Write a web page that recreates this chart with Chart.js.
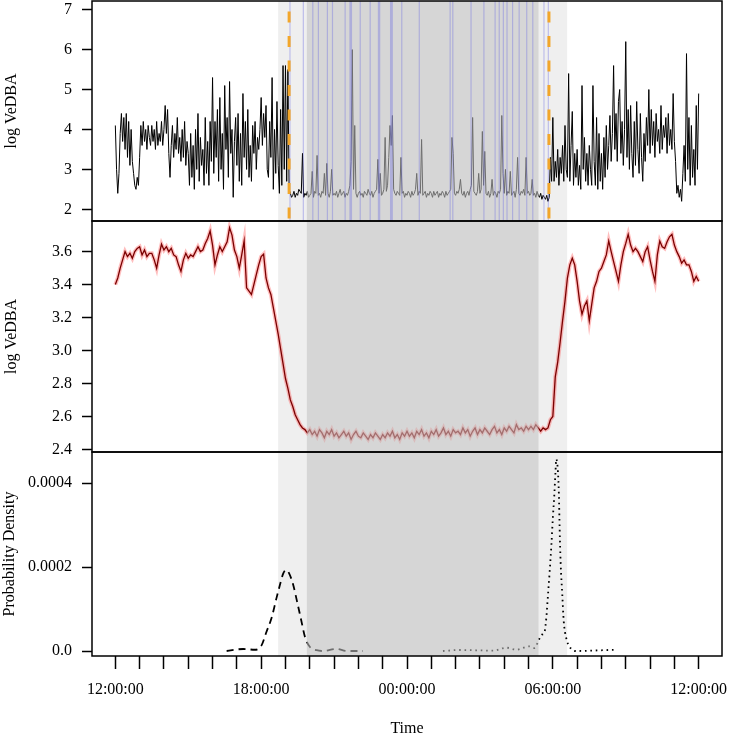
<!DOCTYPE html>
<html>
<head>
<meta charset="utf-8">
<script src="https://cdn.jsdelivr.net/npm/chart.js@4"></script>
<style>
  body { margin: 0; background: #fff; }
  canvas { display: block; }
</style>
</head>
<body>
<canvas id="vedbaChart" width="729" height="735"></canvas>
<script>
// raw samples every 0.05 h, smoothed every 0.1 h, both from 12:00:00 (hour 0)
const rawStep = 0.05;
const smoothStep = 0.1;

// raw log VeDBA (top panel), one row per hour
const rawVeDBA = [
  4.1, 3.0, 2.4, 2.9, 3.9, 4.4, 3.7, 4.3, 3.5, 4.4, 3.3, 4.2, 3.1, 4.0, 3.2, 2.9, 2.6, 2.5, 2.8, 2.6,
  3.3, 4.1, 3.6, 4.2, 3.7, 4.0, 3.5, 4.1, 3.8, 3.6, 4.1, 3.7, 4.0, 3.5, 4.2, 3.6, 3.9, 3.7, 4.2, 3.6,
  4.0, 4.6, 3.9, 4.5, 3.4, 2.8, 3.6, 4.1, 3.3, 3.9, 3.5, 4.3, 3.4, 3.8, 3.2, 4.0, 3.3, 4.2, 3.1, 3.7,
  3.4, 2.6, 3.9, 2.8, 3.6, 2.5, 4.0, 3.0, 4.4, 2.7, 3.8, 3.1, 3.5, 2.6, 4.3, 2.9, 3.7, 2.6, 4.2, 3.2,
  5.3, 2.9, 4.2, 3.3, 4.5, 2.7, 4.8, 3.0, 3.9, 2.5, 5.1, 3.5, 4.3, 2.8, 5.2, 3.4, 4.0, 2.3, 3.7, 4.3,
  3.1, 4.4, 2.7, 3.9, 2.6, 4.9, 3.3, 4.2, 3.0, 4.5, 2.8, 3.6, 2.7, 4.1, 3.4, 4.2, 3.0, 3.8, 3.5, 4.0,
  4.8, 3.6, 4.4, 3.8, 4.6, 3.0, 2.8, 4.2, 3.3, 5.3, 2.5, 4.0, 2.9, 4.7, 3.1, 2.4, 4.5, 2.6, 5.6, 3.0,
  5.6, 2.7, 5.5, 2.5, 2.4, 2.3, 2.35, 2.45, 2.3, 2.4, 2.35, 2.5, 2.45, 2.4, 3.4, 2.3, 2.4, 2.35, 2.45, 2.3,
  2.35, 2.4, 2.95, 2.3, 2.45, 2.4, 3.35, 2.35, 2.4, 2.3, 2.45, 2.4, 2.9, 2.35, 3.15, 2.4, 2.3, 2.45, 3.0, 2.35,
  2.4, 2.35, 2.45, 2.3, 2.4, 2.5, 2.35, 2.4, 2.45, 2.3, 2.4, 2.35, 2.45, 2.6, 3.2, 6.0, 2.5, 4.1, 2.4, 2.3,
  2.4, 2.45, 2.35, 2.4, 2.3, 2.45, 2.4, 2.35, 2.5, 2.4, 2.35, 2.45, 2.3, 2.4, 2.45, 2.5, 3.25, 2.4, 2.9, 2.35,
  2.4, 2.5, 3.8, 2.45, 2.6, 3.3, 4.1, 3.6, 4.35, 2.5, 2.4, 2.35, 2.45, 2.4, 2.35, 3.3, 2.4, 2.45, 2.3, 2.4,
  2.35, 2.45, 2.4, 2.3, 2.45, 2.35, 2.4, 2.5, 2.9, 2.35, 2.45, 2.4, 3.75, 2.35, 2.4, 2.45, 2.3, 2.4, 2.35, 2.45,
  2.4, 2.3, 2.45, 2.35, 2.4, 2.45, 2.3, 2.4, 2.35, 2.45, 2.4, 2.3, 2.45, 2.35, 2.4, 2.45, 2.5, 3.8, 3.4, 2.4,
  2.35, 2.45, 2.4, 2.5, 2.75, 2.4, 2.35, 2.45, 2.3, 2.4, 2.45, 2.35, 2.5, 2.6, 4.3, 2.45, 2.4, 2.35, 2.45, 2.9,
  2.4, 2.5, 3.95, 2.6, 3.45, 2.4, 2.35, 2.45, 2.3, 2.4, 2.75, 2.35, 2.45, 2.4, 2.3, 2.45, 2.4, 2.5, 4.35, 2.9,
  2.4, 3.0, 2.35, 2.45, 2.4, 2.95, 2.35, 2.4, 2.45, 2.3, 2.5, 3.3, 2.4, 2.35, 2.45, 2.4, 2.5, 2.35, 3.3, 2.4,
  2.45, 2.35, 2.4, 2.75, 2.35, 2.4, 2.3, 2.45, 2.35, 2.3, 2.4, 2.25, 2.35, 2.3, 2.25, 2.35, 2.2, 2.3, 3.3, 2.7,
  4.3, 2.7, 3.2, 2.8, 3.5, 2.6, 3.3, 2.9, 3.6, 2.7, 4.1, 3.0, 2.8, 5.4, 2.7, 3.6, 4.45, 2.6, 3.4, 2.8,
  3.5, 2.6, 3.1, 2.5, 5.1, 3.0, 3.8, 2.7, 3.4, 2.6, 3.6, 3.0, 2.6, 5.1, 3.2, 2.6, 4.3, 2.5, 3.9, 2.7,
  3.4, 2.5, 3.8, 2.8, 4.1, 3.0, 3.6, 4.35, 3.2, 3.9, 5.6, 3.5, 4.4, 3.2, 4.7, 5.0, 3.4, 4.2, 3.1, 4.0,
  6.2, 3.3, 4.5, 3.0, 4.6, 3.4, 2.8, 4.2, 3.1, 4.7, 3.5, 2.9, 4.4, 3.3, 2.7, 3.9, 3.2, 4.3, 3.6, 5.0,
  3.4, 4.5, 3.6, 4.2, 3.3, 4.4, 3.7, 4.0, 3.4, 4.6, 3.5, 4.1, 3.8, 4.3, 3.4, 4.4, 3.6, 4.0, 3.5, 4.9,
  3.7, 3.2, 2.4, 2.6, 2.3, 2.5, 2.2, 2.9, 3.6, 2.7, 5.9, 3.0, 4.3, 2.6, 4.1, 2.8, 3.5, 2.6, 4.6, 3.0,
  4.9
];

// smoothed log VeDBA (middle panel), one row per hour
const smoothVeDBA = [
  3.40, 3.44, 3.50, 3.55, 3.60, 3.57, 3.59, 3.56, 3.60, 3.62,
  3.63, 3.58, 3.61, 3.57, 3.59, 3.59, 3.55, 3.50, 3.58, 3.645,
  3.61, 3.63, 3.60, 3.62, 3.58, 3.57, 3.52, 3.48, 3.55, 3.59,
  3.56, 3.58, 3.57, 3.60, 3.63, 3.60, 3.61, 3.65, 3.68, 3.725,
  3.64, 3.52, 3.58, 3.63, 3.60, 3.63, 3.66, 3.745, 3.70, 3.61,
  3.57, 3.50, 3.58, 3.665, 3.38, 3.36, 3.34, 3.40, 3.46, 3.52,
  3.57, 3.585, 3.44, 3.38, 3.34, 3.26, 3.18, 3.10, 3.01, 2.92,
  2.83, 2.77, 2.70, 2.66, 2.61, 2.58, 2.55, 2.53, 2.52, 2.50,
  2.52, 2.49, 2.51, 2.48, 2.52, 2.50, 2.47, 2.51, 2.49, 2.52,
  2.48, 2.50, 2.47, 2.49, 2.51, 2.48, 2.50, 2.46, 2.49, 2.51,
  2.48, 2.47, 2.50, 2.48, 2.46, 2.49, 2.47, 2.50, 2.48, 2.46,
  2.49, 2.47, 2.50, 2.48, 2.51, 2.47, 2.49, 2.46, 2.50, 2.48,
  2.51, 2.48, 2.50, 2.47, 2.51, 2.49, 2.52, 2.48, 2.50, 2.47,
  2.51, 2.49, 2.52, 2.48, 2.50, 2.53, 2.49, 2.51, 2.48, 2.52,
  2.50, 2.51, 2.49, 2.53, 2.50, 2.52, 2.48, 2.51, 2.53, 2.49,
  2.52, 2.50, 2.53, 2.51, 2.49, 2.52, 2.54, 2.50, 2.52, 2.49,
  2.53, 2.51, 2.54, 2.52, 2.50, 2.55, 2.52, 2.53, 2.51, 2.54,
  2.52, 2.54, 2.52, 2.55, 2.53, 2.51, 2.53, 2.52, 2.53, 2.58,
  2.60, 2.84, 2.93, 3.05, 3.18, 3.30, 3.44, 3.52, 3.56, 3.52,
  3.42, 3.30, 3.22, 3.27, 3.30, 3.18, 3.28, 3.38, 3.42, 3.48,
  3.50, 3.54, 3.58, 3.665, 3.60, 3.54, 3.48, 3.42, 3.52, 3.60,
  3.65, 3.705, 3.64, 3.60, 3.62, 3.60, 3.57, 3.54, 3.60, 3.63,
  3.55, 3.48, 3.42, 3.58, 3.665, 3.63, 3.62, 3.66, 3.69, 3.705,
  3.64, 3.60, 3.57, 3.53, 3.55, 3.52, 3.52, 3.48, 3.42, 3.45,
  3.42
];

// density of sleep onset (dashed) and wake time (dotted), hours since 12:00
const onsetHours = [4.58, 5.26, 5.74, 6.02, 6.22, 6.43, 6.63, 6.77, 6.91, 7.02, 7.15,
  7.32, 7.48, 7.66, 7.80, 8.00, 8.28, 8.55, 9.10, 9.51, 10.19];
const onsetDensity = [0, 0.0000048, 0.000003, 0.000014, 0.000046, 0.000079, 0.000126,
  0.000157, 0.000185, 0.000193, 0.000185, 0.000157, 0.000117, 0.000070, 0.000034,
  0.000010, 0.000002, 0, 0.000005, 0, 0];
const wakeHours = [13.48, 14.17, 14.85, 15.54, 16.09, 16.50, 17.04, 17.25, 17.39, 17.53,
  17.66, 17.73, 17.80, 17.87, 17.94, 18.00, 18.06, 18.11, 18.14, 18.21, 18.25, 18.28,
  18.32, 18.39, 18.45, 18.55, 18.69, 18.96, 20.54];
const wakeDensity = [0, 0.0000024, 0.0000017, 0.0000007, 0.0000079, 0.0000031, 0.0000112,
  0.0000071, 0.000022, 0.000038, 0.000046, 0.000078, 0.000133, 0.000189, 0.000252,
  0.000316, 0.000371, 0.000427, 0.000457, 0.000427, 0.000371, 0.000292, 0.000212,
  0.000133, 0.000070, 0.000031, 0.000010, 0, 0.000003];

// shaded periods (hours since 12:00)
const twilight = [6.70, 18.59];
const night = [7.88, 17.41];
// sleep onset / wake estimates (orange dashed)
const sleepMarks = [7.15, 17.84];
// short activity bouts during sleep (blue bands, top panel)
const boutStart = [7.16, 7.71, 8.10, 8.33, 8.70, 8.91, 9.43, 9.63, 10.05, 10.46, 10.80, 11.30,
  11.76, 12.48, 13.75, 13.86, 14.61, 15.14, 15.60, 15.77, 15.94, 16.09, 16.32, 16.59,
  16.90, 17.15, 17.61, 17.79];
const boutEnd = [7.19, 7.76, 8.14, 8.35, 8.73, 8.94, 9.45, 9.74, 10.07, 10.48, 10.90, 11.42,
  11.80, 12.51, 13.79, 13.90, 14.65, 15.18, 15.62, 15.80, 15.97, 16.12, 16.35, 16.62,
  16.93, 17.18, 17.63, 17.81];

// axis ticks
const hourTicks = Array.from({ length: 25 }, (_, i) => i);
const labelHours = [0, 6, 12, 18, 24];
const timeLabels = ['12:00:00', '18:00:00', '00:00:00', '06:00:00', '12:00:00'];
const topTicks = [2, 3, 4, 5, 6, 7];
const midTicks = [2.4, 2.6, 2.8, 3.0, 3.2, 3.4, 3.6];
const densTicks = [0, 0.0002, 0.0004];
const densLabels = ['0.0', '0.0002', '0.0004'];

const serif = "'Liberation Serif', 'DejaVu Serif', serif";
const tickFont = { family: serif, size: 16 };

const rawPts = rawVeDBA.map((v, i) => ({ x: i * rawStep, y: v }));
const smoothPts = smoothVeDBA.map((v, i) => ({ x: i * smoothStep, y: v }));
const onsetPts = onsetHours.map((h, i) => ({ x: h, y: onsetDensity[i] }));
const wakePts = wakeHours.map((h, i) => ({ x: h, y: wakeDensity[i] }));

// labels may hang over the plot edges, keep the plot box where it is
function noOverhang(s) {
    s.paddingTop = 0;
    s.paddingBottom = 0;
    s.paddingLeft = 0;
    s.paddingRight = 0;
}

function yAxis(weight, min, max, ticks, label, title, titlePad) {
    return {
        type: 'linear',
        position: 'left',
        stack: 'panels',
        stackWeight: weight,
        min: min,
        max: max,
        afterBuildTicks: s => { s.ticks = ticks.map(v => ({ value: v })); },
        afterFit: s => { s.width = 92; noOverhang(s); },
        ticks: { autoSkip: false, color: '#000', font: tickFont, padding: 10, callback: label },
        grid: { drawOnChartArea: false, tickLength: 10, tickColor: '#000', tickWidth: 1.5 },
        border: { display: false },
        title: { display: true, text: title, color: '#000', font: tickFont, padding: { top: titlePad, bottom: 0 } }
    };
}

const panelPlugin = {
    id: 'panels',
    beforeDatasetsDraw(chart) {
        const { ctx, chartArea: a, scales: { x } } = chart;
        ctx.save();
        ctx.fillStyle = '#efefef';
        const l = x.getPixelForValue(twilight[0]);
        const r = x.getPixelForValue(twilight[1]);
        ctx.fillRect(l, a.top, r - l, a.bottom - a.top);
        ctx.restore();
    },
    afterDatasetsDraw(chart) {
        const { ctx, chartArea: a, scales } = chart;
        const x = scales.x, top = scales.yTop;
        ctx.save();
        // night overlay on top of the data
        ctx.fillStyle = 'rgba(195, 195, 195, 0.565)';
        const nl = x.getPixelForValue(night[0]);
        const nr = x.getPixelForValue(night[1]);
        ctx.fillRect(nl, a.top, nr - nl, a.bottom - a.top);

        // activity bouts, top panel only
        ctx.fillStyle = 'rgba(110, 110, 225, 0.38)';
        boutStart.forEach((s, i) => {
            const bl = x.getPixelForValue(s);
            const bw = Math.max(1.2, x.getPixelForValue(boutEnd[i]) - bl);
            ctx.fillRect(bl, top.top, bw, top.bottom - top.top);
        });

        // sleep onset / wake lines
        ctx.strokeStyle = '#f2a62a';
        ctx.lineWidth = 3;
        ctx.setLineDash([11, 13.5]);
        ctx.lineDashOffset = -10.5;
        sleepMarks.forEach(h => {
            const px = x.getPixelForValue(h);
            ctx.beginPath();
            ctx.moveTo(px, top.top);
            ctx.lineTo(px, top.bottom);
            ctx.stroke();
        });
        ctx.setLineDash([]);

        // panel boxes
        ctx.strokeStyle = '#000';
        ctx.lineWidth = 1.5;
        ['yTop', 'yMid', 'yBot'].forEach(id => {
            const s = scales[id];
            ctx.strokeRect(a.left, s.top, a.right - a.left, s.bottom - s.top);
        });
        ctx.restore();
    }
};

const ctx = document.getElementById('vedbaChart').getContext('2d');
const chart = new Chart(ctx, {
    type: 'line',
    data: {
        datasets: [
            {
                label: 'log VeDBA',
                data: rawPts,
                yAxisID: 'yTop',
                borderColor: '#000',
                borderWidth: 1,
                pointRadius: 0,
                order: 1
            },
            {
                label: 'smoothed',
                data: smoothPts,
                yAxisID: 'yMid',
                borderColor: '#7a0000',
                borderWidth: 1.3,
                pointRadius: 0,
                order: 1
            },
            {
                label: 'smoothed band',
                data: smoothPts,
                yAxisID: 'yMid',
                borderColor: 'rgba(255, 70, 70, 0.35)',
                borderWidth: 4,
                pointRadius: 0,
                order: 2
            },
            {
                label: 'onset density',
                data: onsetPts,
                yAxisID: 'yBot',
                borderColor: '#000',
                borderWidth: 1.8,
                borderDash: [7, 5],
                tension: 0.4,
                cubicInterpolationMode: 'monotone',
                pointRadius: 0,
                order: 1
            },
            {
                label: 'wake density',
                data: wakePts,
                yAxisID: 'yBot',
                borderColor: '#000',
                borderWidth: 1.8,
                borderDash: [1.6, 3.8],
                tension: 0.4,
                cubicInterpolationMode: 'monotone',
                pointRadius: 0,
                order: 1
            }
        ]
    },
    options: {
        responsive: false,
        animation: false,
        layout: { padding: { top: 1, right: 7, left: 0, bottom: 0 } },
        plugins: {
            legend: { display: false },
            tooltip: { enabled: false }
        },
        scales: {
            x: {
                type: 'linear',
                min: -0.96,
                max: 24.96,
                afterBuildTicks: s => { s.ticks = hourTicks.map(v => ({ value: v })); },
                afterFit: s => { s.height = 79; noOverhang(s); },
                ticks: {
                    autoSkip: false,
                    maxRotation: 0,
                    color: '#000',
                    font: tickFont,
                    padding: 11,
                    callback: v => {
                        const k = labelHours.indexOf(v);
                        return k < 0 ? '' : timeLabels[k];
                    }
                },
                grid: { drawOnChartArea: false, tickLength: 13, tickColor: '#000', tickWidth: 1.5 },
                border: { display: false },
                title: { display: true, text: 'Time', color: '#000', font: tickFont, padding: { top: 0, bottom: -3 } }
            },
            yBot: yAxis(204, -0.0000119, 0.000474, densTicks, (v, i) => densLabels[i], 'Probability Density', 0),
            yMid: yAxis(231, 2.384, 3.786, midTicks, v => v.toFixed(1), 'log VeDBA', 2),
            yTop: yAxis(220, 1.707, 7.218, topTicks, v => String(v), 'log VeDBA', 2)
        }
    },
    plugins: [panelPlugin]
});
</script>
</body>
</html>
